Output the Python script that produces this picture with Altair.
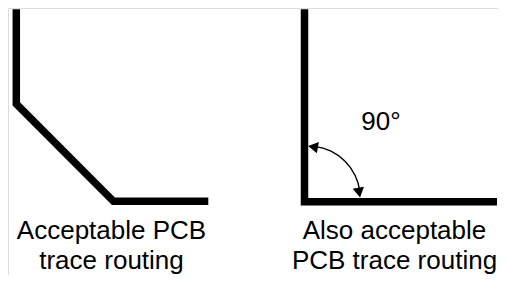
import altair as alt
import pandas as pd

# Trace polylines (diagram coordinates, px)
trace_id = ["left", "left", "left", "left", "right", "right", "right"]
trace_order = [0, 1, 2, 3, 0, 1, 2]
trace_x = [16.3, 16.3, 113.5, 208.3, 304.5, 304.5, 497.0]
trace_y = [9.3, 104.0, 201.3, 201.3, 9.3, 201.7, 201.7]

# Angle arc
arc_cx = [308.3]
arc_cy = [198.0]
arc_t0 = [0.12]
arc_t1 = [1.45]

# Arrow heads
head_x = [313.0, 359.2]
head_y = [146.8, 192.6]
head_shape = ["triangle-left", "triangle-down"]
head_angle = [10, 350]

# Labels
label_text = ["90°", "Acceptable PCB", "trace routing", "Also acceptable", "PCB trace routing"]
label_x = [381.0, 111.5, 111.5, 394.5, 394.5]
label_y = [130.0, 239.0, 269.2, 239.0, 269.2]

xs = alt.Scale(domain=[8, 498], nice=False, zero=False)
ys = alt.Scale(domain=[8, 275], nice=False, zero=False, reverse=True)

traces = pd.DataFrame({"id": trace_id, "o": trace_order, "x": trace_x, "y": trace_y})
arcs = pd.DataFrame({"x": arc_cx, "y": arc_cy, "t0": arc_t0, "t1": arc_t1})
heads = pd.DataFrame({"x": head_x, "y": head_y, "shape": head_shape, "angle": head_angle})
labels = pd.DataFrame({"text": label_text, "x": label_x, "y": label_y})

line_layer = alt.Chart(traces).mark_line(
    color="black", strokeWidth=7.5, strokeCap="butt", strokeJoin="miter"
).encode(
    x=alt.X("x:Q", scale=xs, axis=None),
    y=alt.Y("y:Q", scale=ys, axis=None),
    detail="id:N",
    order="o:Q",
)

arc_layer = alt.Chart(arcs).mark_arc(color="black").encode(
    x=alt.X("x:Q", scale=xs, axis=None),
    y=alt.Y("y:Q", scale=ys, axis=None),
    theta=alt.Theta("t0:Q", scale=None),
    theta2="t1:Q",
    radius=alt.value(52.7),
    radius2=alt.value(51.3),
)

head_layer = alt.Chart(heads).mark_point(
    filled=True, color="black", opacity=1, size=130
).encode(
    x=alt.X("x:Q", scale=xs, axis=None),
    y=alt.Y("y:Q", scale=ys, axis=None),
    shape=alt.Shape("shape:N", scale=None),
    angle=alt.Angle("angle:Q", scale=None),
)

text_layer = alt.Chart(labels).mark_text(
    font="Liberation Sans", fontSize=26, color="black", align="center", baseline="alphabetic"
).encode(
    x=alt.X("x:Q", scale=xs, axis=None),
    y=alt.Y("y:Q", scale=ys, axis=None),
    text="text:N",
)

chart = alt.layer(line_layer, arc_layer, head_layer, text_layer).properties(
    width=490, height=267, padding=0, autosize=alt.AutoSizeParams(type="none")
).configure_view(stroke=None).configure(background="white")

chart.save("out.html", embed_options={"renderer": "svg", "actions": False})
